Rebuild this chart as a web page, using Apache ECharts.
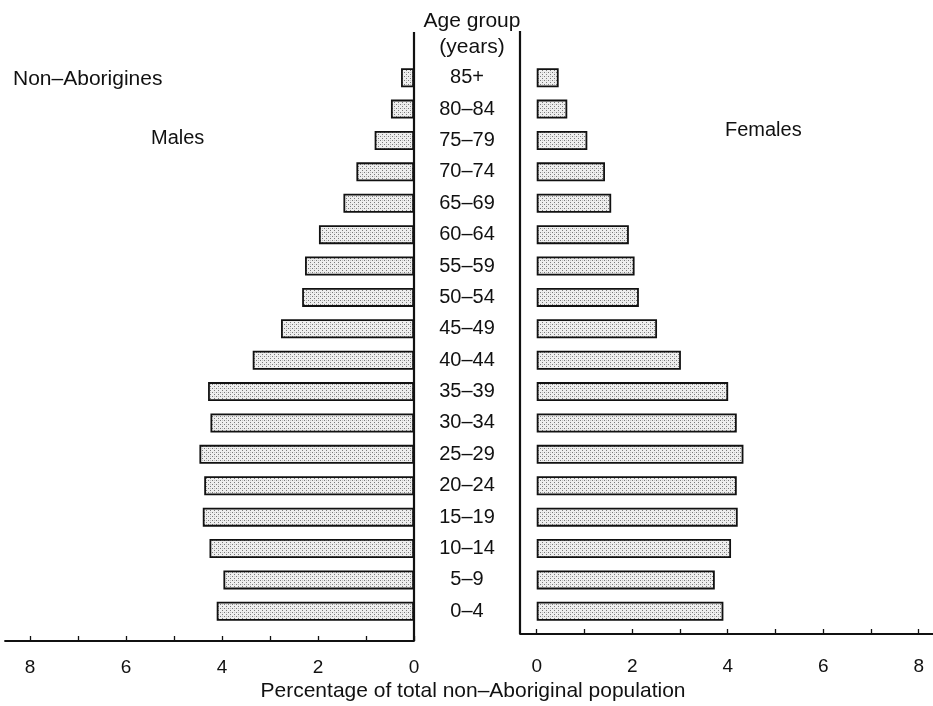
<!DOCTYPE html>
<html>
<head>
<meta charset="utf-8">
<script src="https://cdn.jsdelivr.net/npm/echarts@6/dist/echarts.min.js"></script>
<style>
html,body{margin:0;padding:0;background:#fff;}
#chart{width:933px;height:706px;}
</style>
</head>
<body>
<div id="chart"></div>
<script>
const ageGroups = ['0–4','5–9','10–14','15–19','20–24','25–29','30–34','35–39','40–44','45–49','50–54','55–59','60–64','65–69','70–74','75–79','80–84','85+'];
const males   = [4.11, 3.97, 4.26, 4.40, 4.37, 4.47, 4.24, 4.29, 3.36, 2.77, 2.33, 2.27, 1.98, 1.47, 1.20, 0.82, 0.48, 0.27];
const females = [3.91, 3.73, 4.07, 4.21, 4.19, 4.33, 4.19, 4.01, 3.02, 2.52, 2.14, 2.05, 1.93, 1.56, 1.43, 1.06, 0.64, 0.46];
const tickValues  = [0, 1, 2, 3, 4, 5, 6, 7, 8];
const labelValues = [0, 2, 4, 6, 8];

const FONT = '"Liberation Sans", Arial, Helvetica, sans-serif';

function makePattern() {
  const c = document.createElement('canvas');
  c.width = 4; c.height = 4;
  const g = c.getContext('2d');
  g.fillStyle = '#eeeeee';
  g.fillRect(0, 0, 4, 4);
  g.fillStyle = '#7a7a7a';
  g.fillRect(0, 0, 1, 1);
  g.fillRect(2, 2, 1, 1);
  g.fillStyle = '#c4c4c4';
  g.fillRect(2, 0, 1, 1);
  return c;
}
const pattern = { image: makePattern(), repeat: 'repeat' };

const chart = echarts.init(document.getElementById('chart'), null, { renderer: 'canvas' });

const axisCommon = {
  type: 'value',
  splitLine: { show: false },
  axisLine: { show: true, onZero: false, lineStyle: { color: '#111', width: 1.8 } },
  axisTick: { show: true, inside: true, length: 5, customValues: tickValues, lineStyle: { color: '#111', width: 1.3 } },
  axisLabel: { customValues: labelValues, fontSize: 19, color: '#111', fontFamily: FONT }
};

const txt = (size) => ({ fontSize: size, fontWeight: 'normal', color: '#111', fontFamily: FONT });

const option = {
  backgroundColor: '#fff',
  animation: false,
  title: [
    { text: 'Age group\n(years)', left: 467, top: 3, textAlign: 'center', padding: 5,
      textStyle: Object.assign(txt(21), { lineHeight: 26, align: 'center' }) },
    { text: 'Non–Aborigines', left: 8, top: 64, textStyle: txt(21) },
    { text: 'Males', left: 146, top: 123, textStyle: txt(20) },
    { text: 'Females', left: 720, top: 115, textStyle: txt(20) },
    { text: 'Percentage of total non–Aboriginal population', left: 468, top: 676, textAlign: 'center',
      textStyle: txt(21) }
  ],
  grid: [
    { left: 5, width: 409, top: 62, height: 565 },
    { left: 520, width: 413, top: 62, height: 565 }
  ],
  xAxis: [
    Object.assign({}, axisCommon, { gridIndex: 0, inverse: true, min: 0, max: 8.52, offset: 14,
      axisLabel: Object.assign({}, axisCommon.axisLabel, { margin: 17 }) }),
    Object.assign({}, axisCommon, { gridIndex: 1, min: -0.35, max: 8.3, offset: 7,
      axisLabel: Object.assign({}, axisCommon.axisLabel, { margin: 23 }) })
  ],
  yAxis: [
    { type: 'category', gridIndex: 0, data: ageGroups, position: 'right',
      axisLine: { show: false }, axisTick: { show: false }, axisLabel: { show: false } },
    { type: 'category', gridIndex: 1, data: ageGroups, position: 'left',
      axisLine: { show: false }, axisTick: { show: false },
      axisLabel: { show: true, align: 'center', margin: 53, fontSize: 20, color: '#111', fontFamily: FONT } }
  ],
  series: [
    { name: 'Males', type: 'bar', xAxisIndex: 0, yAxisIndex: 0, data: males, barWidth: 19,
      itemStyle: { color: pattern, borderColor: '#111', borderWidth: 1.8 } },
    { name: 'Females', type: 'bar', xAxisIndex: 1, yAxisIndex: 1, data: females, barWidth: 19,
      itemStyle: { color: pattern, borderColor: '#111', borderWidth: 1.8 } }
  ],
  graphic: [
    { type: 'line', shape: { x1: 414, y1: 32, x2: 414, y2: 641 }, style: { stroke: '#111', lineWidth: 2.2 } },
    { type: 'line', shape: { x1: 520, y1: 31, x2: 520, y2: 634 }, style: { stroke: '#111', lineWidth: 2.2 } }
  ]
};
chart.setOption(option);
</script>
</body>
</html>
